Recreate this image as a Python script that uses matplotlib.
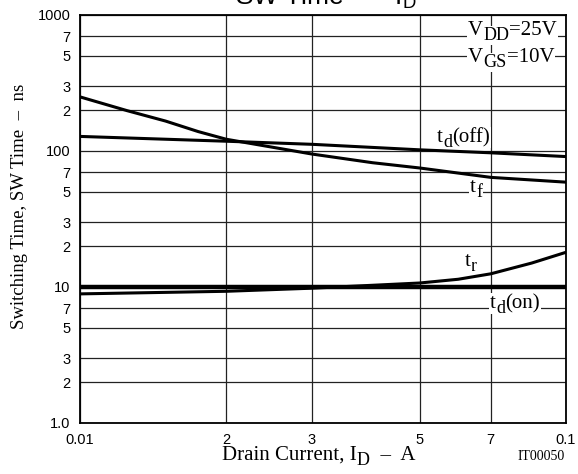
import matplotlib
matplotlib.use("Agg")
import matplotlib.pyplot as plt
from matplotlib.ticker import FixedLocator, NullFormatter

SERIF = 'Liberation Serif'
SANS = 'Liberation Sans'
W, H = 578, 474

# curves (drain current in A, time in ns)
tdoff_x = [0.01, 0.02, 0.03, 0.05, 0.07, 0.1]
tdoff_y = [128, 118, 112, 102, 97, 91]

tf_x = [0.01, 0.0125, 0.015, 0.0175, 0.02, 0.03, 0.04, 0.05, 0.07, 0.1]
tf_y = [250, 198, 166, 139, 122, 95, 82, 75, 64, 59]

tr_x = [0.01, 0.02, 0.03, 0.05, 0.06, 0.07, 0.085, 0.1]
tr_y = [8.9, 9.3, 9.8, 10.7, 11.4, 12.5, 15.0, 18.0]

tdon_x = [0.01, 0.1]
tdon_y = [10, 10]

x_ticks = [0.01, 0.02, 0.03, 0.05, 0.07, 0.1]
x_labels = ['0.01', '2', '3', '5', '7', '0.1']
y_ticks = [1, 2, 3, 5, 7, 10, 20, 30, 50, 70, 100, 200, 300, 500, 700, 1000]
y_labels = ['1.0', '2', '3', '5', '7', '10', '2', '3', '5', '7',
            '100', '2', '3', '5', '7', '1000']

fig = plt.figure(figsize=(W / 100, H / 100), dpi=100)
ax = fig.add_axes([80 / W, 1 - 423 / H, 486 / W, 408 / H])

ax.set_xscale('log')
ax.set_yscale('log')
ax.set_xlim(0.01, 0.1)
ax.set_ylim(1, 1000)

ax.xaxis.set_major_locator(FixedLocator(x_ticks))
ax.xaxis.set_minor_locator(FixedLocator([]))
ax.yaxis.set_major_locator(FixedLocator(y_ticks))
ax.yaxis.set_minor_locator(FixedLocator([]))
ax.xaxis.set_minor_formatter(NullFormatter())
ax.yaxis.set_minor_formatter(NullFormatter())
ax.set_xticklabels(x_labels, family=SANS, fontsize=10.5)
ax.set_yticklabels(y_labels, family=SANS, fontsize=10.5)
ax.tick_params(axis='x', length=0, pad=7)
ax.tick_params(axis='y', length=0, pad=7)
ax.grid(True, color='#222222', linewidth=0.9)
for s in ax.spines.values():
    s.set_linewidth(1.3)
    s.set_zorder(7)

ax.plot(tdoff_x, tdoff_y, color='black', lw=2.2, zorder=6)
ax.plot(tf_x, tf_y, color='black', lw=2.2, zorder=6)
ax.plot(tr_x, tr_y, color='black', lw=2.2, zorder=6)
ax.plot(tdon_x, tdon_y, color='black', lw=3.2, zorder=6)

box = dict(facecolor='white', edgecolor='none', pad=0.8)


def chain(first, parts, size, subsize, drop, bbox=None, z=5.0):
    # put text pieces one after another, subscripts a little lower
    base = first
    prev = first
    for s, is_sub in parts:
        z -= 0.01
        t = ax.annotate(s, xy=(1, 0), xycoords=(prev, base),
                        xytext=(0, -drop if is_sub else 0),
                        textcoords='offset points',
                        fontsize=subsize if is_sub else size, family=SERIF,
                        ha='left', va='bottom', bbox=bbox, zorder=z,
                        annotation_clip=False)
        prev = t
    return prev


def label(x, y, parts, size=15, subsize=13, drop=3):
    first = ax.text(x, y, parts[0][0], fontsize=size, family=SERIF,
                    ha='left', va='baseline', bbox=box, zorder=5)
    chain(first, parts[1:], size, subsize, drop, box)


label(0.0543, 116, [('t', False), ('d', True), ('(off)', False)])
label(0.0635, 50, [('t', False), ('f', True)])
label(0.0620, 14.3, [('t', False), ('r', True)])
label(0.0698, 7.0, [('t', False), ('d', True), ('(on)', False)])
label(0.0629, 713, [('V', False), ('DD', True), ('=25V', False)])
label(0.0629, 451, [('V', False), ('GS', True), ('=10V', False)])

# x axis title with subscript
xl = fig.text(222 / W, 1 - 460 / H, 'Drain Current, I', fontsize=15,
              family=SERIF, ha='left', va='baseline')
chain(xl, [('D', True), ('  –  A', False)], 15, 13, 3)

fig.text(20 / W, 1 - 206 / H, 'Switching Time, SW Time  –  ns',
         family=SERIF, fontsize=13.5, rotation=90, ha='center', va='center')

fig.text(235 / W, 1 - 5 / H, r'SW Time       $\mathregular{I_D}$', family=SANS,
         fontsize=19, ha='left', va='baseline')
fig.text(565 / W, 1 - 460 / H, 'IT00050', family=SERIF, fontsize=10,
         ha='right', va='baseline')

fig.savefig('out.png', dpi=100)
